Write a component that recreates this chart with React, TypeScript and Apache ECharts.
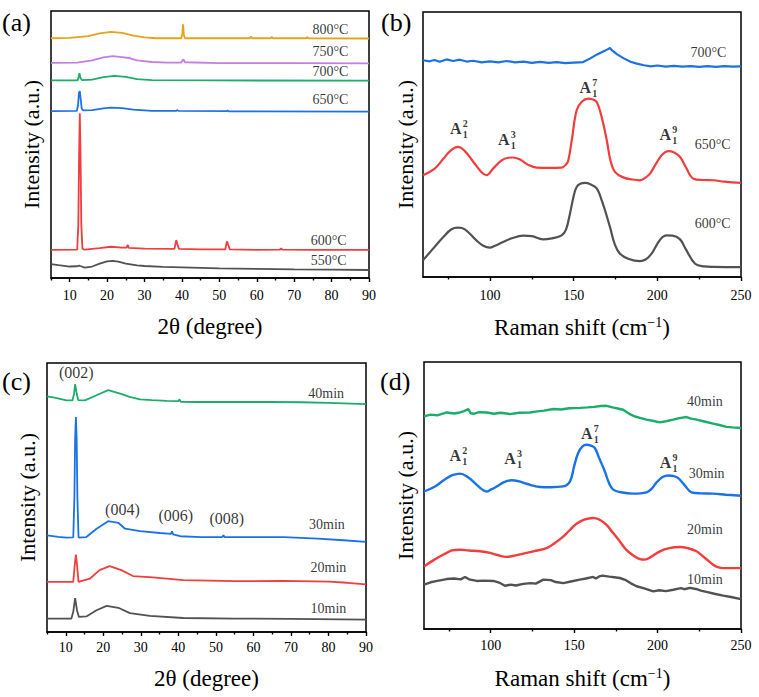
import React, { useEffect, useRef } from "react";
import * as echarts from "echarts";

// ---------- XRD vs. temperature (panel a): [2θ, intensity] ----------
const xrd800 = [[5,89.8],[10,89.9],[15,90.6],[18,91.6],[21,92.2],[24,91.8],[27,90.8],[30,90.1],[33,89.8],[39.8,89.8],[40.1,91.5],[40.3,95.0],[40.5,91.0],[40.8,89.8],[50,89.8],[58.2,89.8],[58.5,90.4],[58.8,89.8],[63.7,89.8],[64,90.3],[64.3,89.8],[73.2,89.8],[73.5,90.2],[73.8,89.8],[90,89.7]];
const xrd750 = [[5,80.6],[12,80.7],[16,81.5],[19,82.6],[21.5,83.1],[24,82.7],[25.8,82.4],[26,82.6],[26.3,82.2],[28,81.5],[32,80.9],[36,80.7],[39.8,80.7],[40.2,81.6],[40.4,81.9],[40.8,80.8],[50,80.5],[70,80.5],[90,80.4]];
const xrd700 = [[5,74.0],[12.1,74.0],[12.4,75.5],[12.6,76.7],[12.9,74.8],[13.3,74.1],[16,74.3],[19,75.2],[22,75.7],[25,75.3],[28,74.5],[32,74.1],[50,74.0],[90,73.9]];
const xrd650 = [[5,62.5],[11.9,62.6],[12.2,64.5],[12.5,69.5],[12.7,70.0],[12.9,67.5],[13.2,63.5],[13.6,62.8],[16,62.9],[19,63.5],[21,63.8],[24,63.6],[27,63.1],[32,62.6],[38.5,62.6],[38.7,62.9],[39,62.6],[52,62.5],[52.2,62.7],[52.5,62.4],[90,62.3]];
const xrd600 = [[5,10.5],[12.0,10.6],[12.3,20],[12.5,45],[12.7,61.7],[12.9,45],[13.1,20],[13.4,11.0],[14,10.6],[18,11.2],[21,11.7],[24,11.4],[25.2,11.4],[25.5,12.4],[25.8,11.3],[30,11.0],[38.0,10.9],[38.3,13.0],[38.5,14.2],[38.8,12.5],[39.2,10.9],[45,10.7],[51.6,10.7],[51.9,13.0],[52.1,13.7],[52.4,12.3],[52.8,10.7],[60,10.5],[66.2,10.6],[66.5,11.1],[66.8,10.6],[75,10.5],[90,10.5]];
const xrd550 = [[5,5.2],[7,4.8],[10,4.3],[12,4.4],[12.5,4.6],[13,4.4],[14,3.9],[16,4.3],[18,5.4],[20,6.2],[21.5,6.4],[23,6.1],[25,5.4],[28,4.7],[30,4.5],[35,4.2],[40,4.0],[50,3.6],[60,3.4],[70,3.2],[80,3.1],[90,3.0]];
const tempLabelsA = [
  { text: "800°C", x: 79.7, y: 93.1 },
  { text: "750°C", x: 79.7, y: 84.8 },
  { text: "700°C", x: 79.7, y: 77.5 },
  { text: "650°C", x: 79.7, y: 66.7 },
  { text: "600°C", x: 79.2, y: 14.2 },
  { text: "550°C", x: 79.2, y: 6.4 },
];

// ---------- Raman vs. temperature (panel b): [shift, intensity] ----------
const raman700 = [[60,81.8],[64,81.4],[67,81.9],[70,81.2],[74,82.1],[78,81.5],[82,82.0],[86,81.3],[90,81.6],[95,81.0],[100,81.4],[105,81.0],[110,81.5],[115,81.0],[120,81.3],[125,80.8],[130,81.2],[135,80.8],[140,81.1],[145,80.7],[150,80.9],[155.7,81.1],[160,82.5],[164,84.0],[168,85.2],[170,85.8],[171.7,86.4],[173,85.5],[176,84.0],[180,82.5],[184,81.2],[187.7,80.5],[192,79.9],[196,79.5],[200,79.8],[205,79.4],[210,79.7],[215,79.4],[220,79.6],[225,79.3],[230,79.6],[235,79.3],[240,79.6],[245,79.4],[250,79.5]];
const raman650 = [[60,38.4],[67,40.9],[72,44.5],[77,48],[80.9,49.1],[85,47.5],[90,43.5],[95,39.5],[97.9,38.4],[102,41.0],[107,44.0],[111,45.0],[113.8,45.1],[118,44.3],[123,42.3],[127.8,41.3],[135,41.2],[142.8,41.3],[145.5,42.5],[146.8,44.0],[149,52],[151.8,62.9],[155,66.2],[158.8,67.3],[161.5,67.0],[163.8,66.0],[166.5,61],[169.8,51.6],[172,44],[174.8,39.6],[180,37.5],[185,36.8],[189.6,36.5],[193,37.5],[195.6,39.0],[199,42.5],[203,46.2],[206.6,47.5],[210,47.0],[213.6,45.3],[217,41.5],[221.6,37.1],[227,36.6],[233.5,36.5],[240,36.0],[250,35.5]];
const raman600 = [[60,6.3],[66,10.7],[72,15.0],[77,18.0],[80.9,18.6],[85,18.0],[91.9,13.8],[96,11.8],[99.9,11.1],[103,11.8],[107.8,13.2],[113,14.6],[119.8,15.6],[125,15.4],[131.7,14.2],[137,14.6],[142.8,15.7],[145.5,18.0],[147.8,23.9],[150,30.5],[151.8,34.0],[154,35.2],[156.8,35.5],[160,35.0],[163.8,33.4],[167,28.5],[171.7,18.9],[174.5,12.5],[177.7,8.8],[183,6.8],[189.6,6.0],[193,6.6],[196.6,8.8],[200,12.5],[203,15.0],[205.6,15.7],[209,15.6],[213.6,14.2],[217,10.5],[222.6,5.0],[228,4.0],[233.5,3.8],[250,3.7]];
const tempLabelsB = [
  { text: "700°C", x: 230.5, y: 84.9 },
  { text: "650°C", x: 233.1, y: 50.0 },
  { text: "600°C", x: 233.1, y: 20.2 },
];
const modesB = [
  { sup: "2", x: 82.0, y: 56.0 },
  { sup: "3", x: 110.6, y: 51.8 },
  { sup: "7", x: 159.4, y: 71.5 },
  { sup: "9", x: 207.2, y: 53.8 },
];

// ---------- XRD vs. time (panel c) ----------
const xrd40 = [[5,87.6],[7,87.1],[10.2,86.1],[11.8,86.1],[12.2,88.5],[12.5,92.1],[12.8,89.5],[13.3,86.2],[15.1,86.1],[18.2,88.0],[21.3,89.9],[24.5,88.6],[27,87.4],[29.8,86.5],[33,86.2],[36.9,85.9],[40.0,85.8],[40.3,86.5],[40.6,85.6],[45,85.5],[54.9,85.5],[65,85.5],[72.7,85.4],[80,85.2],[90,84.7]];
const xrd30 = [[5,35.9],[8,35.4],[10.2,35.1],[12.0,35.2],[12.3,50],[12.5,72],[12.7,79.9],[12.9,72],[13.1,50],[13.4,35.1],[15.5,35.3],[18.2,38.4],[21.3,41.2],[24.0,40.6],[25.8,38.4],[29.8,37.5],[35.1,36.8],[38.0,36.5],[38.3,37.4],[38.6,36.3],[40.5,35.6],[46,35.3],[51.7,35.3],[52.0,36.0],[52.3,35.3],[59.3,35.3],[68.2,35.3],[77.1,34.7],[84,34.1],[90,33.5]];
const xrd20 = [[5,18.6],[8,18.6],[12.0,18.6],[12.4,25],[12.7,28.8],[13.0,25],[13.4,18.6],[16.4,19.8],[19.0,23.0],[21.7,24.5],[24.8,23.0],[27.9,20.8],[33.2,20.3],[41.3,19.3],[55,18.9],[68,19.0],[80,18.7],[85,18.3],[90,17.7]];
const xrd10 = [[5,5.0],[11.5,5.0],[12.0,7.5],[12.5,12.6],[13.0,8.0],[13.5,5.6],[15.5,5.8],[18.2,8.1],[20.9,9.7],[24.0,9.0],[27.1,7.0],[32.4,6.0],[41.3,5.2],[55,5.0],[70,4.9],[90,4.6]];
const timeLabelsC = [
  { text: "40min", x: 79.4, y: 88.8 },
  { text: "30min", x: 79.6, y: 40.0 },
  { text: "20min", x: 80.0, y: 23.9 },
  { text: "10min", x: 80.0, y: 8.6 },
];
const planesC = [
  { text: "(002)", x: 12.8, y: 96.3 },
  { text: "(004)", x: 25.1, y: 45.5 },
  { text: "(006)", x: 39.3, y: 43.4 },
  { text: "(008)", x: 52.9, y: 42.2 },
];

// ---------- Raman vs. time (panel d) ----------
const raman40 = [[60,79.6],[64,80.3],[68,80.0],[73.6,81.1],[78,80.7],[81.6,81.1],[84,81.6],[86.6,82.4],[88,80.8],[89.6,80.6],[93,81.2],[97.6,81.1],[102,80.6],[106,81.0],[111.5,80.5],[117,81.0],[123.5,81.1],[128,81.5],[132,81.8],[137.5,82.4],[142,82.2],[147,82.7],[153.4,82.8],[158,83.0],[162,83.2],[166,83.5],[169.4,83.6],[173,83.0],[176,82.6],[179.4,82.1],[182,81.0],[184,80.3],[186.4,79.6],[190,79.0],[193.4,78.4],[197,78.0],[201.4,77.4],[205,77.8],[209.4,78.4],[213,79.0],[217.4,79.4],[220,78.8],[223.3,78.4],[228,77.7],[233.3,76.9],[237,76.4],[241.3,75.7],[245,75.5],[250,75.3]];
const raman30 = [[60,51.5],[66.6,53.4],[72,55.8],[77,57.6],[81.6,58.2],[86,57.0],[91.6,54.0],[95,52.2],[97.6,51.5],[100,52.2],[103.6,53.4],[108,55.0],[112.5,55.7],[117,55.3],[121.5,54.4],[129.5,53.2],[136,53.1],[143.5,53.4],[147.5,55.3],[150,61],[152.4,65.9],[155,68.4],[157.4,69.0],[160,68.7],[162.4,67.8],[165,64],[168.4,59.0],[171,54.5],[173.4,52.2],[178,51.2],[185.4,50.7],[193.4,51.2],[196.5,52.6],[199.4,54.9],[203,56.9],[206.4,57.5],[209.5,57.3],[212.4,56.5],[216,54],[220.4,51.2],[226,50.8],[233.3,50.7],[241,50.3],[250,49.9]];
const raman20 = [[60,23.4],[66,25.9],[73.6,28.5],[77,29.5],[81.6,29.7],[87,29.4],[93.6,29.1],[99.6,28.5],[104,27.7],[109.5,27.0],[115,27.6],[121.5,28.5],[127,29.3],[133.5,30.3],[138,32.0],[142.5,34.1],[147,36.8],[151.4,39.4],[156,41.0],[161.4,41.6],[165,41.0],[169.4,39.0],[173,36.2],[177.4,32.8],[181,29.8],[185.4,27.5],[189,26.3],[192.4,26.0],[196,27.0],[201.4,29.1],[207,30.3],[213.4,30.7],[218,30.3],[223.3,29.1],[228,26.8],[233.3,24.1],[236,23.2],[239.3,22.8],[250,22.8]];
const raman10 = [[60,16.6],[64,17.5],[68,18.0],[73.6,18.7],[78,18.9],[82,18.6],[84.6,19.5],[87,18.6],[91.6,18.0],[96,18.1],[101.6,18.0],[105,17.4],[108.5,16.2],[112,16.6],[115,16.3],[119.5,16.9],[124,17.2],[127,17.0],[131.5,18.5],[136,18.3],[139,17.6],[143.5,17.2],[148,17.8],[153.4,18.5],[157,18.9],[161.4,19.5],[163,18.9],[165,19.7],[167,20.0],[171,19.6],[174,19.4],[177.4,19.1],[181,18.3],[184,17.1],[187.4,16.0],[192,15.2],[197.4,14.1],[201,14.5],[205,14.2],[209.4,14.7],[214,15.3],[216,14.9],[219.3,15.4],[223,15.0],[226,14.4],[229.3,13.9],[234,13.2],[239.3,12.5],[244,12.0],[250,11.2]];
const timeLabelsD = [
  { text: "40min", x: 228.4, y: 85.2 },
  { text: "30min", x: 229.4, y: 58.1 },
  { text: "20min", x: 228.4, y: 37.2 },
  { text: "10min", x: 228.4, y: 18.7 },
];
const modesD = [
  { sup: "2", x: 81.2, y: 64.9 },
  { sup: "3", x: 113.9, y: 64.0 },
  { sup: "7", x: 159.9, y: 73.1 },
  { sup: "9", x: 207.1, y: 62.4 },
];

// ---------- axis ticks ----------
const xrdMajor = [10, 20, 30, 40, 50, 60, 70, 80, 90];
const xrdMinor = [5, 15, 25, 35, 45, 55, 65, 75, 85];
const ramanMajor = [100, 150, 200, 250];
const ramanMinor = [75, 125, 175, 225];

const FONT = "Liberation Serif";
const C = {
  orange: "#E5A21B",
  violet: "#C57EE0",
  green: "#1AAE6A",
  blue: "#1B72E6",
  red: "#F23D3D",
  gray: "#525252",
};

const grids = [
  { left: 51, top: 11, width: 318, height: 267 },
  { left: 423, top: 12, width: 318, height: 265 },
  { left: 47, top: 363, width: 319, height: 269 },
  { left: 424, top: 362, width: 317, height: 267 },
];

// per panel: tick values, x title, offsets of tick labels / x title below the frame, y title centre x
const panels = [
  { major: xrdMajor, title: "xrd", tickDy: 17, titleDy: 48, yTitleX: 31 },
  { major: ramanMajor, title: "raman", tickDy: 18, titleDy: 50, yTitleX: 405 },
  { major: xrdMajor, title: "xrd", tickDy: 15, titleDy: 46, yTitleX: 27 },
  { major: ramanMajor, title: "raman", tickDy: 16, titleDy: 49, yTitleX: 405 },
];

function line(gi: number, data: number[][], color: string, width: number, smooth: number | boolean = false) {
  return {
    type: "line",
    xAxisIndex: gi,
    yAxisIndex: gi,
    data,
    showSymbol: false,
    symbol: "none",
    smooth,
    silent: true,
    lineStyle: { color, width },
    z: 3,
  };
}

function textSeries(gi: number, items: any[]) {
  return {
    type: "scatter",
    xAxisIndex: gi,
    yAxisIndex: gi,
    silent: true,
    symbolSize: 1,
    itemStyle: { color: "rgba(0,0,0,0)" },
    z: 5,
    label: {
      show: true,
      position: "inside",
      formatter: "{b}",
      color: "#000",
      fontFamily: FONT,
      fontSize: 14,
      align: "center",
      verticalAlign: "middle",
    },
    data: items,
  };
}

function plainLabels(list: { text: string; x: number; y: number }[], fontSize: number) {
  return list.map((d) => ({ name: d.text, value: [d.x, d.y], label: { fontSize } }));
}

// Raman mode labels: bold "A" with stacked superscript index and subscript 1
function modeLabels(list: { sup: string; x: number; y: number }[]) {
  const out: any[] = [];
  list.forEach((d) => {
    out.push({ name: "A", value: [d.x, d.y], label: { fontSize: 16, fontWeight: "bold", offset: [-4, 0] } });
    out.push({ name: d.sup, value: [d.x, d.y], label: { fontSize: 10, fontWeight: "bold", offset: [5.5, -5] } });
    out.push({ name: "1", value: [d.x, d.y], label: { fontSize: 10, fontWeight: "bold", offset: [5.5, 6] } });
  });
  return out;
}

function xAx(gi: number, min: number, max: number, ticks: number[], length: number, showLine: boolean) {
  return {
    type: "value",
    gridIndex: gi,
    min,
    max,
    position: "bottom",
    axisLine: { show: showLine, onZero: false, lineStyle: { color: "#000", width: 1.5 } },
    axisTick: { show: true, length, customValues: ticks, lineStyle: { color: "#000", width: 1.4 } },
    axisLabel: { show: false },
    splitLine: { show: false },
  };
}

function yAx(gi: number) {
  return {
    type: "value",
    gridIndex: gi,
    min: 0,
    max: 100,
    axisLine: { show: false },
    axisTick: { show: false },
    axisLabel: { show: false },
    splitLine: { show: false },
  };
}

function txt(x: number, y: number, text: string, fontSize: number, extra: any = {}) {
  return {
    type: "text",
    x,
    y,
    silent: true,
    z: 10,
    style: {
      text,
      fontFamily: FONT,
      fontSize,
      fill: "#000",
      align: "center",
      verticalAlign: "middle",
      ...extra,
    },
  };
}

export default function App() {
  const ref = useRef<HTMLDivElement>(null);

  useEffect(() => {
    if (!ref.current) return;
    document.body.style.margin = "0";
    const chart = echarts.init(ref.current, undefined, { renderer: "svg" });

    chart.setOption({
      animation: false,
      backgroundColor: "#fff",
      textStyle: { fontFamily: FONT },
      tooltip: { show: false },
      grid: grids.map((g) => ({
        ...g,
        show: true,
        borderColor: "#000",
        borderWidth: 1.5,
        backgroundColor: "transparent",
        containLabel: false,
      })),
      xAxis: [
        xAx(0, 5, 90, xrdMajor, 4, true),
        xAx(1, 60, 250, ramanMajor, 4, true),
        xAx(2, 5, 90, xrdMajor, 4, true),
        xAx(3, 60, 250, ramanMajor, 4, true),
        xAx(0, 5, 90, xrdMinor, 2.5, false),
        xAx(1, 60, 250, ramanMinor, 2.5, false),
        xAx(2, 5, 90, xrdMinor, 2.5, false),
        xAx(3, 60, 250, ramanMinor, 2.5, false),
      ],
      yAxis: [yAx(0), yAx(1), yAx(2), yAx(3)],
      series: [
        // (a)
        line(0, xrd800, C.orange, 1.8),
        line(0, xrd750, C.violet, 1.8),
        line(0, xrd700, C.green, 1.8),
        line(0, xrd650, C.blue, 1.8),
        line(0, xrd600, C.red, 1.8),
        line(0, xrd550, C.gray, 1.8),
        textSeries(0, plainLabels(tempLabelsA, 14)),
        // (b)
        line(1, raman700, C.blue, 2.2),
        line(1, raman650, C.red, 2.2, 0.4),
        line(1, raman600, C.gray, 2.2, 0.4),
        textSeries(1, plainLabels(tempLabelsB, 14)),
        textSeries(1, modeLabels(modesB)),
        // (c)
        line(2, xrd40, C.green, 1.8),
        line(2, xrd30, C.blue, 1.8),
        line(2, xrd20, C.red, 1.8),
        line(2, xrd10, C.gray, 1.8),
        textSeries(2, plainLabels(timeLabelsC, 14)),
        textSeries(2, plainLabels(planesC, 16)),
        // (d)
        line(3, raman40, C.green, 2.4),
        line(3, raman30, C.blue, 2.4, 0.4),
        line(3, raman20, C.red, 2.4, 0.4),
        line(3, raman10, C.gray, 2.4),
        textSeries(3, plainLabels(timeLabelsD, 14)),
        textSeries(3, modeLabels(modesD)),
      ],
    });

    // axis texts: tick labels placed through each axis's own scale, plus titles
    const texts: any[] = [];
    panels.forEach((p, gi) => {
      const g = grids[gi];
      const bottom = g.top + g.height;
      p.major.forEach((v) => {
        const px = chart.convertToPixel({ xAxisIndex: gi }, v) as number;
        texts.push(txt(px, bottom + p.tickDy, String(v), 14));
      });
      const cx = g.left + g.width / 2;
      const ty = bottom + p.titleDy;
      if (p.title === "xrd") {
        texts.push(txt(cx, ty, "2θ (degree)", 23));
      } else {
        texts.push(
          txt(cx, ty, "{t|Raman shift (cm}{sup|−1}{t|)}", 23, {
            rich: {
              t: { fontFamily: FONT, fontSize: 23, fill: "#000" },
              sup: { fontFamily: FONT, fontSize: 14, fill: "#000", verticalAlign: "top", padding: [0, 0, 8, 0] },
            },
          })
        );
      }
      texts.push({ ...txt(0, 0, "Intensity (a.u.)", 22), x: p.yTitleX, y: g.top + g.height / 2, rotation: Math.PI / 2 });
    });
    texts.push(
      { type: "text", left: 2, top: 9, style: { text: "(a)", fontFamily: FONT, fontSize: 26, fill: "#000" } },
      { type: "text", left: 381, top: 9, style: { text: "(b)", fontFamily: FONT, fontSize: 26, fill: "#000" } },
      { type: "text", left: 2, top: 368, style: { text: "(c)", fontFamily: FONT, fontSize: 26, fill: "#000" } },
      { type: "text", left: 380, top: 368, style: { text: "(d)", fontFamily: FONT, fontSize: 26, fill: "#000" } }
    );
    chart.setOption({ graphic: texts });

    return () => chart.dispose();
  }, []);

  return <div ref={ref} style={{ width: 759, height: 697, background: "#fff" }} />;
}
